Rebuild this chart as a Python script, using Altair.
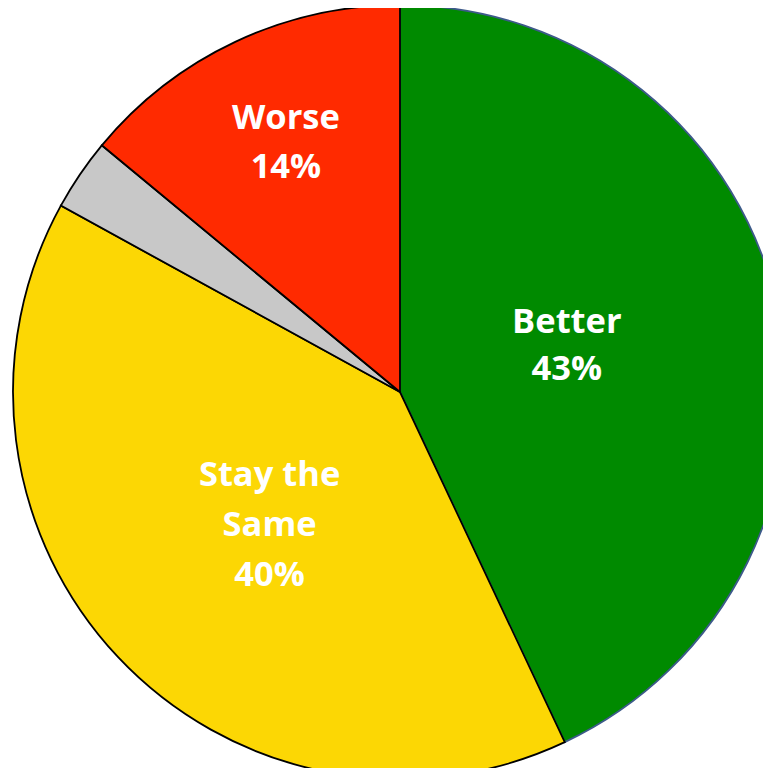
import altair as alt
import pandas as pd

categories = ["Better", "Stay the Same", "Other", "Worse"]
values = [43, 40, 3, 14]
labels = ["Better\n43%", "Stay the\nSame\n40%", "", "Worse\n14%"]
order = [1, 2, 3, 4]
colors = ["#008A00", "#FCD704", "#C8C8C8", "#FF2A00"]
strokes = ["#3D5A8A", "#000000", "#000000", "#000000"]

df = pd.DataFrame({"cat": categories, "val": values, "label": labels, "ord": order})

cx, cy, R = 392, 384, 387

base = alt.Chart(df).encode(
    theta=alt.Theta("val:Q", stack=True),
    order=alt.Order("ord:Q"),
    x=alt.value(cx),
    y=alt.value(cy),
)

pie = base.mark_arc(strokeWidth=1.8).encode(
    radius=alt.value(R),
    color=alt.Color("cat:N", scale=alt.Scale(domain=categories, range=colors), legend=None),
    stroke=alt.Stroke("cat:N", scale=alt.Scale(domain=categories, range=strokes), legend=None),
)

def label_layer(cat, r, dx, dy, lh):
    return base.mark_text(
        font="Open Sans", fontWeight="bold", fontSize=34.5, color="white",
        lineBreak="\n", lineHeight=lh, align="center", baseline="middle",
        dx=dx, dy=dy,
    ).encode(
        text="label:N",
        radius=alt.value(r),
        opacity=alt.condition(alt.datum.cat == cat, alt.value(1), alt.value(0)),
    )

chart = alt.layer(
    pie,
    label_layer("Better", 172, -1, -31, 47),
    label_layer("Stay the Same", 183, 3, -41, 50),
    label_layer("Worse", 275, 3, -24, 49),
).properties(
    width=755, height=760, padding=0, autosize=alt.AutoSizeParams(type="none")
).configure_view(stroke=None)

chart.save("out.html", embed_options={"renderer": "svg", "actions": False})
